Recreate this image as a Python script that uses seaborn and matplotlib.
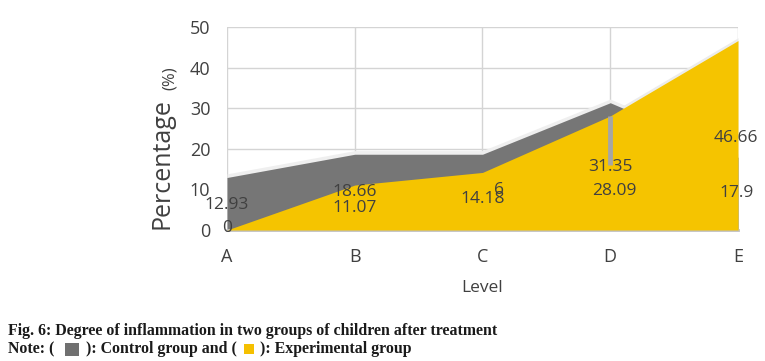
import matplotlib
matplotlib.use("Agg")
import matplotlib.pyplot as plt
from matplotlib.patches import Rectangle
import seaborn as sns
import pandas as pd
import numpy as np

levels = ["A", "B", "C", "D", "E"]
control = [12.93, 18.66, 18.66, 31.35, 17.9]
experimental = [0, 11.07, 14.18, 28.09, 46.66]
yticks = [0, 10, 20, 30, 40, 50]

sns.set_theme(style="white")
plt.rcParams['font.family'] = ['Open Sans', 'DejaVu Sans']

df = pd.DataFrame({"Level": levels, "Control": control, "Experimental": experimental})
df["pos"] = np.arange(len(levels))

W, H = 765, 361
fig = plt.figure(figsize=(W/100, H/100), dpi=100)
ax = fig.add_axes([227/W, 1-230/H, (738-227)/W, (230-27)/H])

GRAY = "#767676"
YEL = "#f5c400"
TXT = "#404040"

# shadows
ax.fill_between(df["pos"], 0, np.array(control) + 0.9, color="#efefef", lw=0, zorder=1)
ax.fill_between(df["pos"], 0, np.array(experimental) + 0.7, color="#ececec", lw=0, zorder=1)
ax.fill_between(df["pos"], 0, df["Control"], color=GRAY, lw=0, zorder=2)
sns.lineplot(data=df, x="pos", y="Control", ax=ax, color=GRAY, lw=0, zorder=2)
ax.fill_between(df["pos"], 0, df["Experimental"], color=YEL, lw=0, zorder=3)
sns.lineplot(data=df, x="pos", y="Experimental", ax=ax, color=YEL, lw=0, zorder=3)
ax.vlines(3, 16.0, 28.2, color="#a6a6a6", lw=3.5, zorder=4)

ax.set_xlim(0, 4)
ax.set_ylim(0, 50)
ax.set_yticks(yticks)
ax.set_xticks(df["pos"])
ax.set_xticklabels(levels)
ax.grid(True, color="#d4d4d4", lw=1.0, zorder=0)
ax.set_axisbelow(True)
for s in ["left", "right", "top"]:
    ax.spines[s].set_visible(False)
ax.spines["bottom"].set_color("#c0c0c0")
ax.spines["bottom"].set_linewidth(2)
ax.tick_params(axis="y", labelsize=13, colors=TXT, pad=12, length=0)
ax.tick_params(axis="x", labelsize=13, colors=TXT, pad=13, length=0)
ax.set_xlabel("Level", fontsize=12.5, color=TXT, labelpad=10)
ax.set_ylabel("")

# data labels
lab = dict(fontsize=12.5, color=TXT, ha="center", va="center", zorder=5)
ax.text(0.0, 6.2, "12.93", **lab)
ax.text(0.0, 0.4, "0", **lab)
ax.text(1.0, 9.3, "18.66", **lab)
ax.text(1.0, 5.3, "11.07", **lab)
ax.text(2.13, 9.9, "6", **lab)
ax.text(2.0, 7.6, "14.18", **lab)
ax.text(3.0, 15.5, "31.35", **lab)
ax.text(3.03, 9.6, "28.09", **lab)
ax.text(3.98, 22.7, "46.66", **lab)
ax.text(3.99, 9.1, "17.9", **lab)

# y label
fig.text(162/W, 1-164/H, "Percentage", rotation=90, fontsize=18, color=TXT, ha="center", va="center")
fig.text(170/W, 1-78/H, "(%)", rotation=90, fontsize=12, color=TXT, ha="center", va="center")

# caption
cap = dict(fontsize=11.4, fontweight="bold", family=["Liberation Serif"], color="#1a1a1a", va="center", ha="left")
fig.text(8/W, 1-331/H, "Fig. 6: Degree of inflammation in two groups of children after treatment", **cap)
fig.text(8/W, 1-349/H, "Note: (", **cap)
fig.text(86/W, 1-349/H, "): Control group and (", **cap)
fig.text(260/W, 1-349/H, "): Experimental group", **cap)
fig.patches.append(Rectangle((65/W, 1-356/H), 14/W, 13/H, transform=fig.transFigure, color="#707070", lw=0))
fig.patches.append(Rectangle((244/W, 1-354/H), 10/W, 10/H, transform=fig.transFigure, color="#f5c000", lw=0))

fig.savefig("out.png", dpi=100)
